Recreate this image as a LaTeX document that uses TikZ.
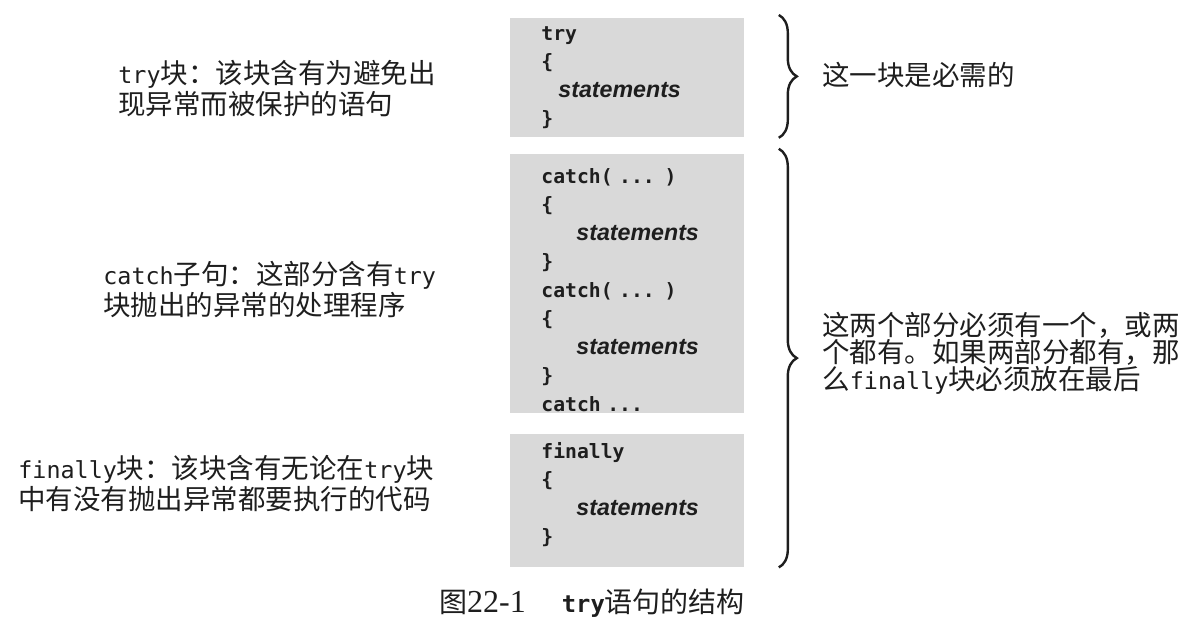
\documentclass[tikz,border=0pt]{standalone}
\usepackage{fontspec}
\setmainfont{Liberation Serif}
\newfontfamily\cjk{Noto Sans CJK SC}
\newfontfamily\kwfont{DejaVu Sans Mono}[Scale=0.85]
\newfontfamily\stmfont{Liberation Sans}
\usetikzlibrary{positioning,decorations.pathreplacing}

\definecolor{boxgray}{HTML}{D9D9D9}
\definecolor{inkblack}{HTML}{1E1E1E}

\newcommand{\kw}[1]{{\kwfont #1}}
\newcommand{\stm}{{\stmfont\itshape\fontsize{11.6}{14.25}\selectfont statements}}

\begin{document}
\begin{tikzpicture}[
    x=0.5pt, y=-0.5pt,
    text=inkblack,
    codebox/.style={
        fill=boxgray,
        text width=86pt,
        inner xsep=15.5pt,
        inner ysep=0pt,
        align=left,
        font=\fontsize{11.6}{14.25}\selectfont\kwfont\bfseries
    },
    desc/.style={
        inner sep=0pt,
        align=left,
        font=\cjk\fontsize{13.75}{15.5}\selectfont
    },
    curly/.style={
        draw=inkblack,
        line width=1.2pt,
        decorate,
        decoration={brace, amplitude=9pt}
    }
]
\useasboundingbox (0,0) rectangle (1202,630);

% Blocchi di codice
\node[codebox, minimum height=59.5pt, anchor=north west] (try) at (510,18)
    {try\\ \{\\ \hspace*{8.5pt}\stm\\ \}};
\node[codebox, minimum height=129.5pt, below=8pt of try] (catch)
    {catch( ... )\\ \{\\ \hspace*{17.5pt}\stm\\ \}\\
     catch( ... )\\ \{\\ \hspace*{17.5pt}\stm\\ \}\\ catch ...\par\vspace*{-6pt}};
\node[codebox, minimum height=66.5pt, below=10pt of catch] (finally)
    {finally\\ \{\\ \hspace*{17.5pt}\stm\\ \}\par\vspace*{6pt}};

% Spiegazioni a sinistra
\node[desc, anchor=west] (trydesc) at (118,89)
    {\kw{try}块：该块含有为避免出\\ 现异常而被保护的语句};
\node[desc, anchor=west] (catchdesc) at (103,290)
    {\kw{catch}子句：这部分含有\kw{try}\\ 块抛出的异常的处理程序};
\node[desc, anchor=west] (finallydesc) at (18,484)
    {\kw{finally}块：该块含有无论在\kw{try}块\\ 中有没有抛出异常都要执行的代码};

% Graffe
\draw[curly] ([xshift=17pt,yshift=1.5pt]try.north east) -- ([xshift=17pt]try.south east);
\draw[curly] ([xshift=17pt,yshift=2.5pt]catch.north east) -- ([xshift=17pt]finally.south east);

% Spiegazioni a destra
\node[desc, anchor=west] (needed) at (822,75) {这一块是必需的};
\node[desc, anchor=west, font=\cjk\fontsize{13.75}{13.6}\selectfont] (either) at (822,353)
    {这两个部分必须有一个，或两\\ 个都有。如果两部分都有，那\\ 么\kw{finally}块必须放在最后};

% Didascalia
\node[inner sep=0pt, font=\cjk\fontsize{14}{15}\selectfont] (caption) at (592,603)
    {图{\rmfamily\fontsize{16}{15}\selectfont 22-1}\hspace{18pt}{\kwfont\bfseries try}语句的结构};
\end{tikzpicture}
\end{document}
